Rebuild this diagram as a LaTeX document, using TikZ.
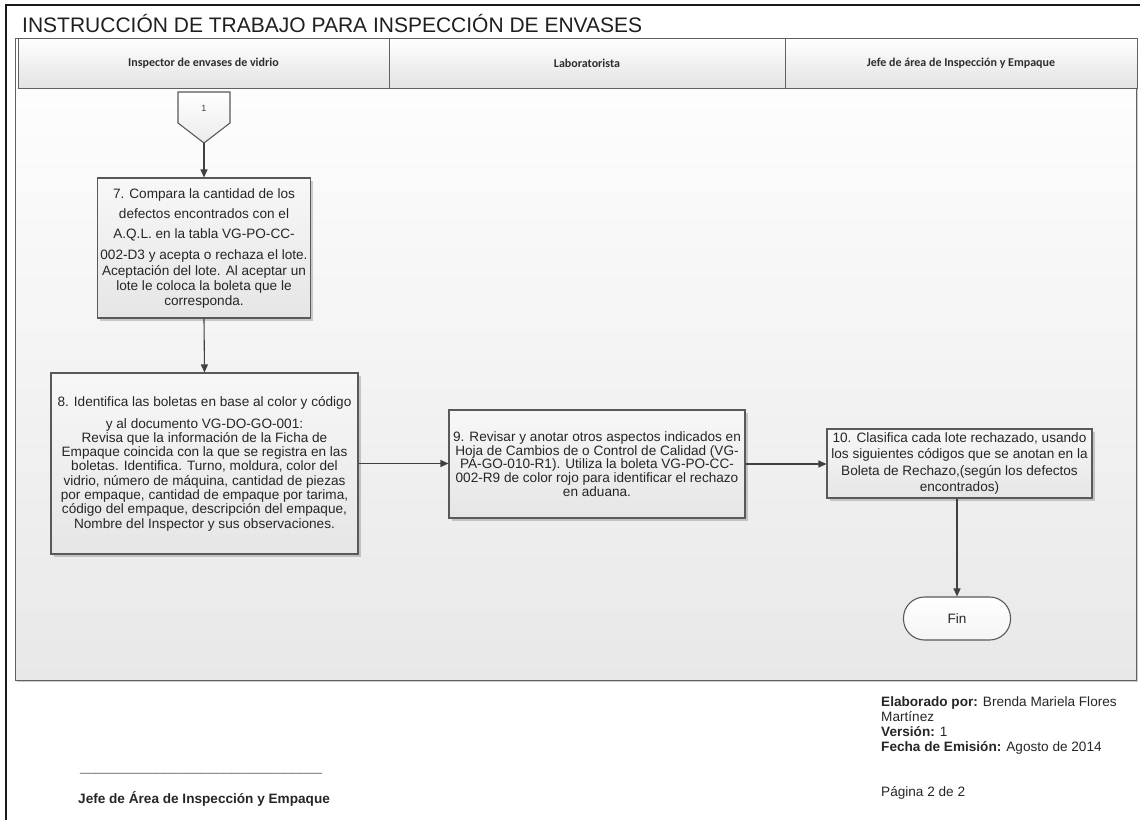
\documentclass[tikz,border=0pt]{standalone}
\usepackage{fontspec}
\setmainfont{Liberation Sans}
\newfontfamily\hdrfont{Carlito}
\usetikzlibrary{arrows.meta,shadows,calc}

\begin{document}
\lineskiplimit=-100pt
\begin{tikzpicture}[x=1pt,y=-1pt,
  boxtext/.style={text=black!85, font=\fontsize{13.6}{15}\selectfont},
  stepbox/.style={draw=black!65, line width=1.1pt, top color=black!3, bottom color=black!10,
    inner sep=0pt, align=center, boxtext,
    drop shadow={shadow xshift=2.5pt, shadow yshift=-2.5pt, fill=black, opacity=0.18}},
  lanehead/.style={draw=black!62, line width=1pt, top color=white, bottom color=black!11,
    inner sep=0pt, text=black!82, font=\hdrfont\bfseries\fontsize{12}{13}\selectfont},
  flow/.style={draw=black!75, line width=1.1pt, -{Triangle[length=8pt,width=7pt]}},
  plain/.style={inner sep=0pt, text=black!85, font=\fontsize{13.6}{15}\selectfont},
]
\useasboundingbox (0,0) rectangle (1140,820);

% page edge
\draw[line width=1.2pt, black!90] (6,820) -- (6,5) -- (1140,5);

% title
\node[anchor=base west, inner sep=0pt, text=black!88, font=\fontsize{21}{21}\selectfont]
  (title) at (22,32) {INSTRUCCIÓN DE TRABAJO PARA INSPECCIÓN DE ENVASES};

% swimlane frame
\path[draw=black!62, line width=1pt, top color=white, bottom color=black!9,
  drop shadow={shadow xshift=2pt, shadow yshift=-2pt, fill=black, opacity=0.2}]
  (15,38) rectangle (1136,680);

% lane headers
\node[lanehead, minimum width=371pt, minimum height=50pt] (lane1) at (203.5,63)
  {Inspector de envases de vidrio};
\node[lanehead, minimum width=396pt, minimum height=50pt] (lane2) at (587,63)
  {Laboratorista};
\node[lanehead, minimum width=352pt, minimum height=50pt] (lane3) at (961,63)
  {Jefe de área de Inspección y Empaque};

% off-page connector
\path[draw=black!65, line width=1.1pt, top color=white, bottom color=black!8]
  (178,92) -- (230,92) -- (230,123) -- (204,143) -- (178,123) -- cycle;
\node[inner sep=0pt, text=black!75, font=\fontsize{9}{10}\selectfont] (c1) at (204,108) {1};
\coordinate (c1tip) at (204,143);

% process steps
\node[stepbox, minimum width=213pt, minimum height=140pt] (s7) at (204,248)
  {7. Compara la cantidad de los\\[5pt]
   defectos encontrados con el\\[5pt]
   A.Q.L. en la tabla VG-PO-CC-\\[6pt]
   002-D3 y acepta o rechaza el lote.\\[1pt]
   Aceptación del lote. Al aceptar un\\
   lote le coloca la boleta que le\\
   corresponda.};

\node[stepbox, font=\fontsize{13.6}{14.3}\selectfont, minimum width=307pt, minimum height=181pt]
  (s8) at (204.5,463.5)
  {8. Identifica las boletas en base al color y código\\[7.7pt]
   y al documento VG-DO-GO-001:\\
   Revisa que la información de la Ficha de\\
   Empaque coincida con la que se registra en las\\
   boletas. Identifica. Turno, moldura, color del\\
   vidrio, número de máquina, cantidad de piezas\\
   por empaque, cantidad de empaque por tarima,\\
   código del empaque, descripción del empaque,\\
   Nombre del Inspector y sus observaciones.};

\node[stepbox, font=\fontsize{13.6}{13.75}\selectfont, minimum width=296pt, minimum height=108pt]
  (s9) at (597,464)
  {9. Revisar y anotar otros aspectos indicados en\\
   Hoja de Cambios de o Control de Calidad (VG-\\
   PA-GO-010-R1). Utiliza la boleta VG-PO-CC-\\
   002-R9 de color rojo para identificar el rechazo\\
   en aduana.};

\node[stepbox, font=\fontsize{13.6}{16.3}\selectfont, minimum width=265pt, minimum height=69pt]
  (s10) at (959.5,463.5)
  {10. Clasifica cada lote rechazado, usando\\
   los siguientes códigos que se anotan en la\\
   Boleta de Rechazo,(según los defectos\\
   encontrados)};

\node[draw=black!65, line width=1.1pt, top color=white, bottom color=black!4,
  rounded corners=21pt, minimum width=107pt, minimum height=43pt, inner sep=0pt,
  boxtext] (fin) at (957,618.5) {Fin};

% connectors
\draw[flow] (c1tip) -- (s7.north);
\draw[flow] (s7.south) -- (s8.north);
\draw[flow] (s8.east) -- (s8.east -| s9.west);
\draw[flow] (s9.east) -- (s9.east -| s10.west);
\draw[flow] (s10.south -| fin.north) -- (fin.north);

% signature block
\node[plain, anchor=base west, text=black!60] (sigline) at (80,771)
  {\_\_\_\_\_\_\_\_\_\_\_\_\_\_\_\_\_\_\_\_\_\_\_\_\_\_\_\_\_\_\_\_};
\node[plain, anchor=base west, font=\bfseries\fontsize{13.6}{15}\selectfont] (signer) at (78,803)
  {Jefe de Área de Inspección y Empaque};

% document data
\node[plain, anchor=north west, align=left] (docdata) at (881,696)
  {\textbf{Elaborado por:} Brenda Mariela Flores\\
   Martínez\\
   \textbf{Versión:} 1\\
   \textbf{Fecha de Emisión:} Agosto de 2014};
\node[plain, anchor=base west] (page) at (881,796) {Página 2 de 2};
\end{tikzpicture}
\end{document}
